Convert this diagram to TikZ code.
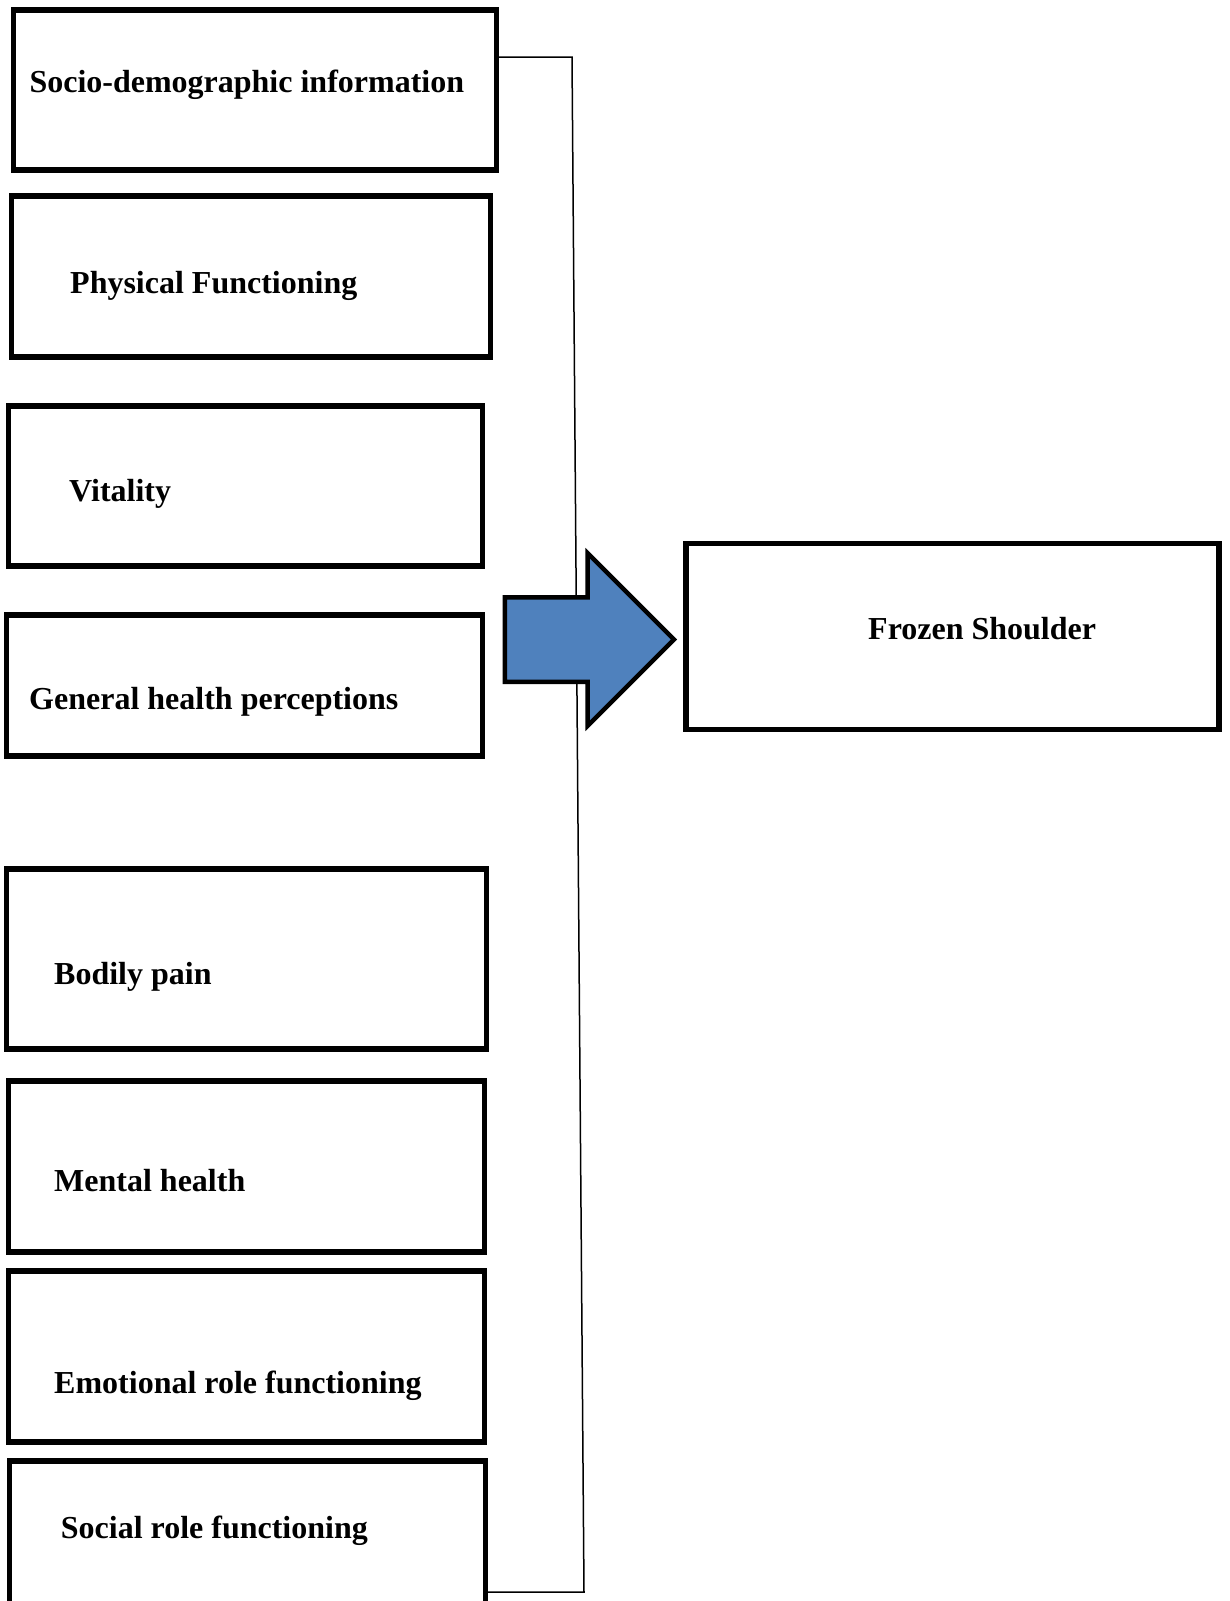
\documentclass[tikz,border=0pt]{standalone}
\usepackage{fontspec}
\setmainfont{Liberation Serif}
\usepackage{xcolor}
\usepackage{tikz}
\usetikzlibrary{positioning, shapes.arrows}

\definecolor{arrowblue}{RGB}{79,129,189}

\begin{document}
\begin{tikzpicture}[
    x=1pt, y=-1pt,
    box/.style={rectangle, draw=black, line width=5.5pt,
                inner sep=0pt, outer sep=0pt},
    lbl/.style={inner sep=0pt, anchor=base west,
                font=\fontsize{32}{38}\selectfont\bfseries},
    bracket/.style={draw=black, line width=1.5pt},
    bigarrow/.style={single arrow, draw=black, line width=4.5pt, fill=arrowblue,
                minimum height=169pt, minimum width=168pt,
                single arrow head extend=44pt, single arrow head indent=0pt,
                inner xsep=0pt, inner ysep=40pt, outer sep=0pt}
  ]
  \useasboundingbox (0,0) rectangle (1229,1601);

  % left column of factors
  \node[box, minimum width=483pt, minimum height=160pt, anchor=north west] (b1) at (13.5,10) {};
  \node[box, minimum width=479pt, minimum height=161pt,
        below=26pt of b1.south west, anchor=north west, xshift=-2pt] (b2) {};
  \node[box, minimum width=474pt, minimum height=160pt,
        below=49pt of b2.south west, anchor=north west, xshift=-3pt] (b3) {};
  \node[box, minimum width=476pt, minimum height=141pt,
        below=49pt of b3.south west, anchor=north west, xshift=-2pt] (b4) {};
  \node[box, minimum width=480pt, minimum height=180pt,
        below=113pt of b4.south west, anchor=north west] (b5) {};
  \node[box, minimum width=476pt, minimum height=171pt,
        below=32pt of b5.south west, anchor=north west, xshift=2pt] (b6) {};
  \node[box, minimum width=476pt, minimum height=171pt,
        below=19pt of b6.south west, anchor=north west] (b7) {};
  \node[box, minimum width=476pt, minimum height=174pt,
        below=19pt of b7.south west, anchor=north west, xshift=1pt] (b8) {};

  \node[lbl] (t1) at ([shift={(15.8,82.7)}]b1.north west) {Socio-demographic information};
  \node[lbl] (t2) at ([shift={(58.5,97.5)}]b2.north west) {Physical Functioning};
  \node[lbl] (t3) at ([shift={(60.5,95.2)}]b3.north west) {Vitality};
  \node[lbl] (t4) at ([shift={(22.5,94.2)}]b4.north west) {General health perceptions};
  \node[lbl] (t5) at ([shift={(47.5,115.8)}]b5.north west) {Bodily pain};
  \node[lbl] (t6) at ([shift={(45.5,110.2)}]b6.north west) {Mental health};
  \node[lbl] (t7) at ([shift={(45.5,122.2)}]b7.north west) {Emotional role functioning};
  \node[lbl] (t8) at ([shift={(51.2,77.8)}]b8.north west) {Social role functioning};

  % outcome
  \node[box, minimum width=533pt, minimum height=186pt, anchor=north west] (fs) at (686,543.5) {};
  \node[lbl] (tfs) at ([shift={(182,95.8)}]fs.north west) {Frozen Shoulder};

  % bracket joining the factors
  \coordinate (brtop) at (572,57);
  \coordinate (brbot) at (584,1592);
  \draw[bracket] (b1.east |- brtop) -- (brtop) -- (brbot) -- (b8.east |- brbot);

  \node[bigarrow, left=12pt of fs, yshift=-3pt] (arr) {};
\end{tikzpicture}
\end{document}
